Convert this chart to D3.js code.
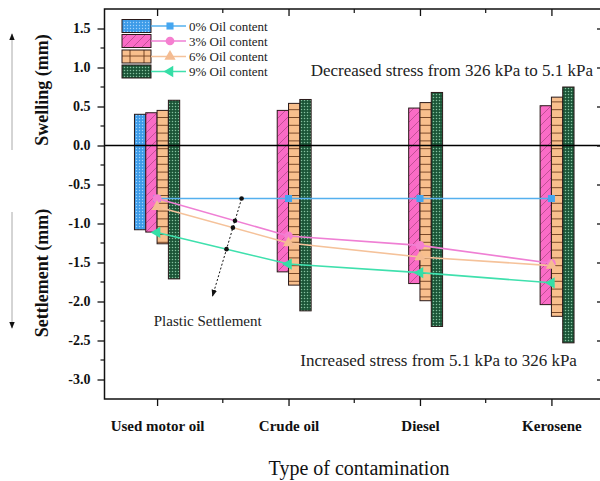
<!DOCTYPE html>
<html><head><meta charset="utf-8">
<script src="https://cdn.jsdelivr.net/npm/d3@7"></script>
<style>
html,body{margin:0;padding:0;background:#fff;}
svg{display:block;}
svg text{font-family:"Liberation Serif","Times New Roman",serif;}
</style></head>
<body><svg id="chart" width="600" height="481"></svg>
<script>
// ---------- data ----------
const categories = ["Used motor oil", "Crude oil", "Diesel", "Kerosene"];
const seriesNames = ["0% Oil content", "3% Oil content", "6% Oil content", "9% Oil content"];
// bars: swelling (top of bar) and settlement (bottom of bar), mm
const swell0 = [0.40, null, null, null];
const settle0 = [-1.08, null, null, null];
const swell3 = [0.42, 0.45, 0.48, 0.51];
const settle3 = [-1.11, -1.62, -1.77, -2.04];
const swell6 = [0.45, 0.54, 0.55, 0.62];
const settle6 = [-1.26, -1.79, -1.99, -2.19];
const swell9 = [0.58, 0.59, 0.68, 0.75];
const settle9 = [-1.71, -2.12, -2.32, -2.53];
// lines: plastic settlement, mm
const line0 = [-0.68, -0.68, -0.68, -0.68];
const line3 = [-0.68, -1.16, -1.28, -1.51];
const line6 = [-0.785, -1.25, -1.43, -1.54];
const line9 = [-1.115, -1.52, -1.63, -1.76];
const yTickValues = [-3.0, -2.5, -2.0, -1.5, -1.0, -0.5, 0.0, 0.5, 1.0, 1.5];
const xMajorTicks = [1, 2, 3, 4];
const xMinorTicks = [1.5, 2.5, 3.5];
// annotations (data coordinates)
const plasticArrow = [{x: 1.643, y: -0.68}, {x: 1.422, y: -1.93}];
const plasticLabel = {x: 1.385, y: -2.25, text: "Plastic Settlement"};
const decreasedLabel = {x: 4.316, y: 0.89, text: "Decreased stress from 326 kPa to 5.1 kPa"};
const increasedLabel = {x: 4.194, y: -2.83, text: "Increased stress from 5.1 kPa to 326 kPa"};

const swellAll = [swell0, swell3, swell6, swell9];
const settleAll = [settle0, settle3, settle6, settle9];
const linesAll = [line0, line3, line6, line9];

// ---------- layout ----------
const FONT = "Liberation Serif, Times New Roman, serif";
const svg = d3.select("#chart");
const L = 104.5, R = 604, T = 9, B = 399;
const x = d3.scaleLinear().domain([0.6, 4.4]).range([L, R]);
const y = d3.scaleLinear().domain([-3.25, 1.75]).range([B, T]);
const sub = d3.scaleBand().domain([0, 1, 2, 3]).range([-0.172, 0.172]).padding(0);

const lineColors = ["#55b0ee", "#ef7fd4", "#f5c29a", "#3fe0ad"];
const markerColors = ["#45a6f0", "#f57fd0", "#f4bc92", "#35dea6"];

// ---------- patterns ----------
const defs = svg.append("defs");
let p = defs.append("pattern").attr("id", "pBlue").attr("patternUnits", "userSpaceOnUse").attr("width", 3).attr("height", 3);
p.append("rect").attr("width", 3).attr("height", 3).attr("fill", "#3d9be8");
p.append("circle").attr("cx", 1.5).attr("cy", 1.5).attr("r", 0.7).attr("fill", "#a3d3fb");
p = defs.append("pattern").attr("id", "pPink").attr("patternUnits", "userSpaceOnUse").attr("width", 9).attr("height", 9);
p.append("rect").attr("width", 9).attr("height", 9).attr("fill", "#fa6cc6");
p.append("path").attr("d", "M0,9 L9,0 M-2,2 L2,-2 M7,11 L11,7").attr("stroke", "#9a3a74").attr("stroke-width", 0.6);
p = defs.append("pattern").attr("id", "pOrange").attr("patternUnits", "userSpaceOnUse").attr("width", 10).attr("height", 7.8);
p.append("rect").attr("width", 10).attr("height", 7.8).attr("fill", "#f8bf8d");
p.append("line").attr("x1", 0).attr("x2", 10).attr("y1", 0.5).attr("y2", 0.5).attr("stroke", "#6b3a1c").attr("stroke-width", 0.9);
p = defs.append("pattern").attr("id", "pOrangeLeg").attr("patternUnits", "userSpaceOnUse").attr("width", 14).attr("height", 7.5).attr("x", 122).attr("y", 49);
p.append("rect").attr("width", 14).attr("height", 7.5).attr("fill", "#f8bf8d");
p.append("line").attr("x1", 0).attr("x2", 14).attr("y1", 7).attr("y2", 7).attr("stroke", "#6b3a1c").attr("stroke-width", 0.9);
p.append("line").attr("x1", 8).attr("x2", 8).attr("y1", 0).attr("y2", 7.5).attr("stroke", "#6b3a1c").attr("stroke-width", 0.9);
p = defs.append("pattern").attr("id", "pGreen").attr("patternUnits", "userSpaceOnUse").attr("width", 3).attr("height", 3);
p.append("rect").attr("width", 3).attr("height", 3).attr("fill", "#1b5537");
p.append("circle").attr("cx", 1.5).attr("cy", 1.5).attr("r", 0.75).attr("fill", "#86c2a0");
const fills = ["url(#pBlue)", "url(#pPink)", "url(#pOrange)", "url(#pGreen)"];
const legFills = ["url(#pBlue)", "url(#pPink)", "url(#pOrangeLeg)", "url(#pGreen)"];

defs.append("marker").attr("id", "arrowHead").attr("viewBox", "0 0 10 10").attr("refX", 9).attr("refY", 5)
  .attr("markerWidth", 7).attr("markerHeight", 7).attr("markerUnits", "userSpaceOnUse").attr("orient", "auto")
  .append("path").attr("d", "M0,1 L10,5 L0,9 Z").attr("fill", "#111");

// ---------- bars ----------
const barData = [];
seriesNames.forEach((s, si) => {
  categories.forEach((c, ci) => {
    const top = swellAll[si][ci], bot = settleAll[si][ci];
    if (top == null) return;
    barData.push({si, ci, top, bot});
  });
});
svg.append("g").selectAll("rect").data(barData).join("rect")
  .attr("x", d => x(d.ci + 1 + sub(d.si)))
  .attr("width", d => x(d.ci + 1 + sub(d.si) + sub.bandwidth()) - x(d.ci + 1 + sub(d.si)))
  .attr("y", d => y(d.top))
  .attr("height", d => y(d.bot) - y(d.top))
  .attr("fill", d => fills[d.si])
  .attr("stroke", "#2a1a1a").attr("stroke-width", 1);

svg.append("line").attr("x1", L).attr("x2", R).attr("y1", y(0)).attr("y2", y(0))
  .attr("stroke", "#000").attr("stroke-width", 1.4);

// ---------- lines ----------
const lineGen = d3.line().x((d, i) => x(i + 1)).y(d => y(d));
linesAll.forEach((vals, si) => {
  svg.append("path").attr("d", lineGen(vals)).attr("fill", "none")
    .attr("stroke", lineColors[si]).attr("stroke-width", 1.6);
});
const symTypes = [d3.symbolSquare, d3.symbolCircle, d3.symbolTriangle, d3.symbolTriangle];
const symSizes = [50, 60, 55, 55];
const rotations = [0, 0, 0, -90];
function drawMarker(g, si, cx, cy) {
  g.append("path").attr("d", d3.symbol().type(symTypes[si]).size(symSizes[si])())
    .attr("transform", `translate(${cx},${cy}) rotate(${rotations[si]})`)
    .attr("fill", markerColors[si]);
}
const mg = svg.append("g");
linesAll.forEach((vals, si) => vals.forEach((v, i) => drawMarker(mg, si, x(i + 1), y(v))));

// ---------- axes ----------
const axisColor = "#111";
const yAxis = d3.axisLeft(y).tickValues(yTickValues).tickSize(7).tickPadding(7).tickFormat(d => d.toFixed(1));
const gy = svg.append("g").attr("transform", `translate(${L},0)`).call(yAxis);
gy.select(".domain").remove();
gy.selectAll(".tick line").attr("stroke", axisColor).attr("stroke-width", 1.3);
gy.selectAll(".tick text").attr("font-family", FONT).attr("font-weight", "bold").attr("font-size", 14).attr("fill", "#111");
const yMinor = yTickValues.map(v => v + 0.25).filter(v => v < 1.75);
svg.append("g").selectAll("line").data(yMinor).join("line")
  .attr("x1", L - 4).attr("x2", L).attr("y1", d => y(d)).attr("y2", d => y(d))
  .attr("stroke", axisColor).attr("stroke-width", 1.2);
const gr = svg.append("g").attr("transform", `translate(${R},0)`)
  .call(d3.axisLeft(y).tickValues(yTickValues).tickSize(7).tickFormat(""));
gr.select(".domain").remove();
gr.selectAll(".tick line").attr("stroke", axisColor).attr("stroke-width", 1.3);
svg.append("g").selectAll("line").data(yMinor).join("line")
  .attr("x1", R - 4).attr("x2", R).attr("y1", d => y(d)).attr("y2", d => y(d))
  .attr("stroke", axisColor).attr("stroke-width", 1.2);
const xAxis = d3.axisBottom(x).tickValues(xMajorTicks).tickSize(7).tickPadding(14).tickFormat(d => categories[d - 1]);
const gx = svg.append("g").attr("transform", `translate(0,${B})`).call(xAxis);
gx.select(".domain").remove();
gx.selectAll(".tick line").attr("stroke", axisColor).attr("stroke-width", 1.3);
gx.selectAll(".tick text").attr("font-family", FONT).attr("font-weight", "bold").attr("font-size", 15).attr("fill", "#111");
svg.append("g").selectAll("line").data(xMinorTicks).join("line")
  .attr("x1", d => x(d)).attr("x2", d => x(d)).attr("y1", B).attr("y2", B + 4)
  .attr("stroke", axisColor).attr("stroke-width", 1.2);
const gt = svg.append("g").attr("transform", `translate(0,${T})`)
  .call(d3.axisBottom(x).tickValues(xMajorTicks).tickSize(7).tickFormat(""));
gt.select(".domain").remove();
gt.selectAll(".tick line").attr("stroke", axisColor).attr("stroke-width", 1.3);
svg.append("g").selectAll("line").data(xMinorTicks).join("line")
  .attr("x1", d => x(d)).attr("x2", d => x(d)).attr("y1", T).attr("y2", T + 4)
  .attr("stroke", axisColor).attr("stroke-width", 1.2);
svg.append("path").attr("d", `M${L},${T} H${R} V${B} H${L} Z`).attr("fill", "none")
  .attr("stroke", axisColor).attr("stroke-width", 1.5);

// ---------- annotations ----------
svg.append("line")
  .attr("x1", x(plasticArrow[0].x)).attr("y1", y(plasticArrow[0].y))
  .attr("x2", x(plasticArrow[1].x)).attr("y2", y(plasticArrow[1].y))
  .attr("stroke", "#111").attr("stroke-width", 1).attr("stroke-dasharray", "2,2")
  .attr("marker-end", "url(#arrowHead)");
const A = plasticArrow[0], Bp = plasticArrow[1];
const dx = Bp.x - A.x, dy = Bp.y - A.y;
const dots = [{x: A.x, y: A.y}];
[line3, line6, line9].forEach(vals => {
  const m = vals[1] - vals[0];
  const t = (vals[0] + (A.x - 1) * m - A.y) / (dy - dx * m);
  dots.push({x: A.x + t * dx, y: A.y + t * dy});
});
svg.append("g").selectAll("circle").data(dots).join("circle")
  .attr("cx", d => x(d.x)).attr("cy", d => y(d.y)).attr("r", 2.3).attr("fill", "#111");

svg.append("text").attr("x", x(plasticLabel.x)).attr("y", y(plasticLabel.y)).attr("dy", "0.35em")
  .attr("font-family", FONT).attr("text-anchor", "middle").attr("font-size", 15).attr("fill", "#222").text(plasticLabel.text);
svg.append("text").attr("x", x(decreasedLabel.x)).attr("y", y(decreasedLabel.y))
  .attr("font-family", FONT).attr("text-anchor", "end").attr("font-size", 17).attr("fill", "#222").text(decreasedLabel.text);
svg.append("text").attr("x", x(increasedLabel.x)).attr("y", y(increasedLabel.y))
  .attr("font-family", FONT).attr("text-anchor", "end").attr("font-size", 17).attr("fill", "#222").text(increasedLabel.text);

// ---------- axis titles ----------
svg.append("text").attr("transform", "translate(42,90) rotate(-90)").attr("dy", "0.35em")
  .attr("font-family", FONT).attr("text-anchor", "middle").attr("font-weight", "bold").attr("font-size", 18).attr("fill", "#111").text("Swelling (mm)");
svg.append("text").attr("transform", "translate(42,273) rotate(-90)").attr("dy", "0.35em")
  .attr("font-family", FONT).attr("text-anchor", "middle").attr("font-weight", "bold").attr("font-size", 18).attr("fill", "#111").text("Settlement (mm)");
svg.append("text").attr("x", 359).attr("y", 475).attr("text-anchor", "middle")
  .attr("font-family", FONT).attr("font-size", 20).attr("fill", "#111").text("Type of contamination");

svg.append("line").attr("x1", 12).attr("x2", 12).attr("y1", 150).attr("y2", 34)
  .attr("stroke", "#aaa").attr("stroke-width", 1).attr("marker-end", "url(#arrowHead)");
svg.append("line").attr("x1", 12).attr("x2", 12).attr("y1", 212).attr("y2", 328)
  .attr("stroke", "#aaa").attr("stroke-width", 1).attr("marker-end", "url(#arrowHead)");

// ---------- legend ----------
const leg = svg.append("g");
const rowY = [26, 41, 56.5, 71.5];
seriesNames.forEach((s, si) => {
  const cy = rowY[si];
  leg.append("rect").attr("x", 122).attr("y", cy - 6.5).attr("width", 29).attr("height", 13)
    .attr("fill", legFills[si]).attr("stroke", "#2a1a1a").attr("stroke-width", 1);
  leg.append("line").attr("x1", 151).attr("x2", 186).attr("y1", cy).attr("y2", cy)
    .attr("stroke", lineColors[si]).attr("stroke-width", 1.6);
  drawMarker(leg, si, 170, cy);
  leg.append("text").attr("x", 189).attr("y", cy).attr("dy", "0.35em")
    .attr("font-family", FONT).attr("font-size", 13).attr("fill", "#222").text(s);
});
</script></body></html>
